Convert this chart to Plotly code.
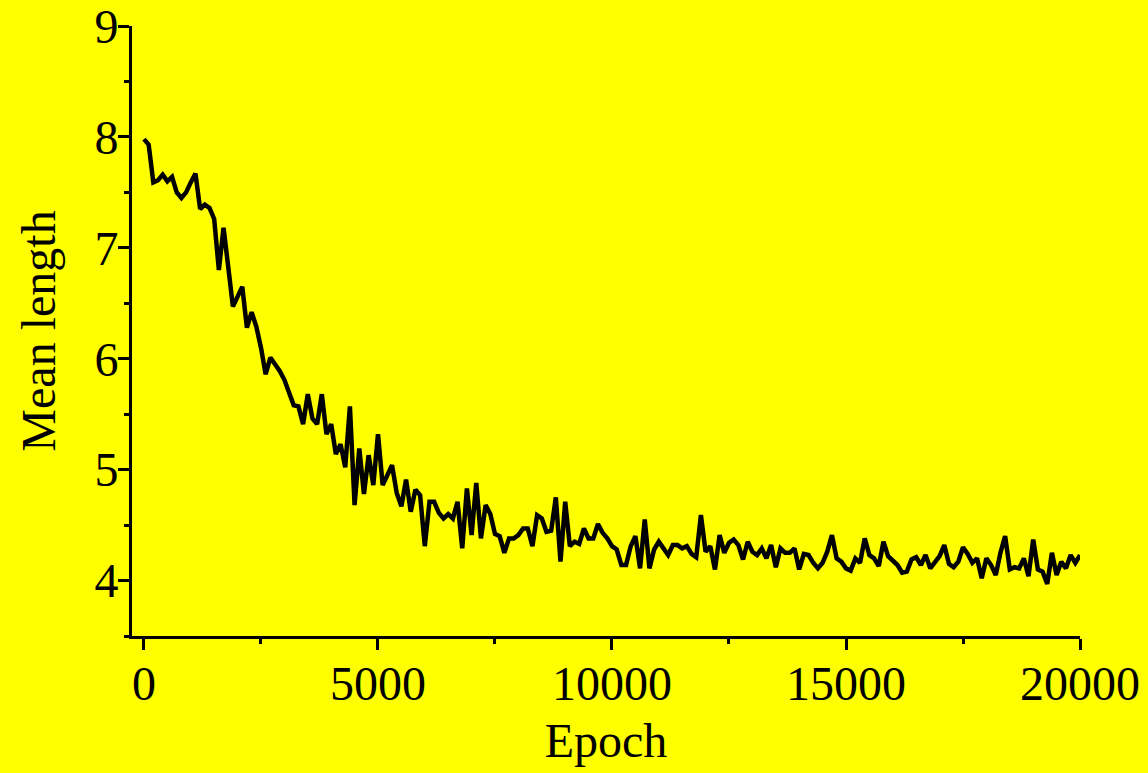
import plotly.graph_objects as go

# Mean tour length recorded every 100 epochs
epochs = list(range(0, 20001, 100))

mean_length = [
    # 0 - 4900
    7.98, 7.93, 7.59, 7.61, 7.66, 7.60, 7.64, 7.50, 7.45, 7.50,
    7.59, 7.67, 7.35, 7.39, 7.36, 7.26, 6.80, 7.18, 6.83, 6.47,
    6.56, 6.65, 6.28, 6.42, 6.29, 6.10, 5.86, 6.01, 5.95, 5.89,
    5.81, 5.69, 5.58, 5.57, 5.41, 5.68, 5.46, 5.41, 5.68, 5.32,
    5.41, 5.14, 5.23, 5.02, 5.57, 4.68, 5.19, 4.78, 5.13, 4.86,
    # 5000 - 9900
    5.32, 4.86, 4.95, 5.04, 4.79, 4.67, 4.91, 4.62, 4.82, 4.77,
    4.31, 4.71, 4.71, 4.61, 4.56, 4.60, 4.56, 4.71, 4.29, 4.83,
    4.41, 4.88, 4.38, 4.68, 4.60, 4.42, 4.40, 4.25, 4.38, 4.38,
    4.41, 4.47, 4.47, 4.31, 4.59, 4.56, 4.44, 4.45, 4.75, 4.17,
    4.71, 4.31, 4.35, 4.33, 4.47, 4.38, 4.38, 4.51, 4.43, 4.38,
    # 10000 - 14900
    4.31, 4.28, 4.14, 4.14, 4.31, 4.40, 4.11, 4.55, 4.11, 4.28,
    4.35, 4.29, 4.23, 4.32, 4.32, 4.29, 4.31, 4.24, 4.21, 4.59,
    4.26, 4.31, 4.10, 4.41, 4.25, 4.34, 4.37, 4.32, 4.19, 4.35,
    4.26, 4.23, 4.29, 4.20, 4.32, 4.12, 4.29, 4.25, 4.25, 4.29,
    4.10, 4.24, 4.23, 4.16, 4.11, 4.16, 4.26, 4.41, 4.20, 4.17,
    # 15000 - 20000
    4.11, 4.09, 4.20, 4.16, 4.38, 4.23, 4.20, 4.13, 4.35, 4.22,
    4.18, 4.14, 4.07, 4.08, 4.19, 4.21, 4.14, 4.23, 4.11, 4.16,
    4.22, 4.32, 4.15, 4.12, 4.17, 4.30, 4.24, 4.16, 4.20, 4.02,
    4.20, 4.14, 4.05, 4.25, 4.40, 4.10, 4.12, 4.11, 4.20, 4.04,
    4.37, 4.10, 4.08, 3.97, 4.25, 4.05, 4.17, 4.11, 4.23, 4.16,
    4.23,
]

x_ticks = [0, 5000, 10000, 15000, 20000]
y_ticks = [4, 5, 6, 7, 8, 9]

BG = "#FFFF00"
FONT = "Liberation Serif, Times New Roman, serif"

fig = go.Figure()
fig.add_trace(go.Scatter(
    x=epochs, y=mean_length, mode="lines",
    line=dict(color="black", width=4.5),
    showlegend=False,
))

axis_common = dict(
    showgrid=False, zeroline=False,
    showline=True, linecolor="black", linewidth=3,
    ticks="outside", ticklen=11, tickwidth=2.5, tickcolor="black",
    tickfont=dict(family=FONT, size=48, color="black"),
    ticklabeloverflow="allow",
)

fig.update_xaxes(
    range=[-256, 20000], tickvals=x_ticks, ticktext=[str(v) for v in x_ticks],
    ticklabelstandoff=-8,
    minor=dict(dtick=2500, tick0=0, ticks="outside", ticklen=5, tickwidth=2.5,
               tickcolor="black", showgrid=False),
    title=dict(text="Epoch", font=dict(family=FONT, size=48, color="black"), standoff=15),
    **axis_common,
)
fig.update_yaxes(
    range=[3.5, 9], tickvals=y_ticks, ticktext=[str(v) for v in y_ticks],
    ticklabelstandoff=-10,
    minor=dict(dtick=0.5, tick0=0, ticks="outside", ticklen=5, tickwidth=2.5,
               tickcolor="black", showgrid=False),
    title=dict(text="Mean length", font=dict(family=FONT, size=48, color="black"), standoff=24),
    **axis_common,
)

fig.update_layout(
    width=1148, height=773,
    margin=dict(l=132, r=68, t=26, b=137, autoexpand=False),
    paper_bgcolor=BG, plot_bgcolor=BG,
)

fig.write_html("out.html")
